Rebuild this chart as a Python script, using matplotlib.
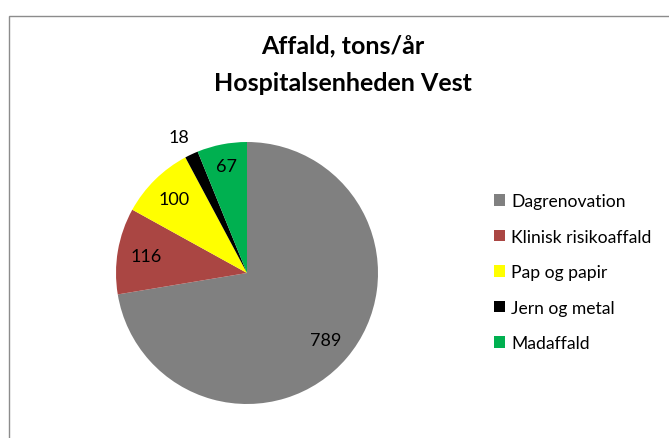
import numpy as np
import matplotlib
matplotlib.use("Agg")
import matplotlib.pyplot as plt
from matplotlib.patches import Rectangle

categories = ["Dagrenovation", "Klinisk risikoaffald", "Pap og papir", "Jern og metal", "Madaffald"]
values = [789, 116, 100, 18, 67]
colors = ["#808080", "#AA4643", "#FFFF00", "#000000", "#00B050"]
title = "Affald, tons/år\nHospitalsenheden Vest"

W, H = 669, 439
fig = plt.figure(figsize=(W / 100, H / 100), dpi=100)
fig.patch.set_facecolor("white")

# chart frame
fig.patches.append(Rectangle((8.5 / W, -0.2), 1.2, 1.2 - 16.5 / H, transform=fig.transFigure,
                             fill=False, edgecolor="#8c8c8c", lw=1.0))

cx, cy, r = 247, 274, 131
ax = fig.add_axes([(cx - r) / W, (H - cy - r) / H, 2 * r / W, 2 * r / H])
wedges, _ = ax.pie(values, colors=colors, startangle=90, counterclock=False, radius=1.0,
                   wedgeprops=dict(linewidth=0))
ax.set_xlim(-1, 1)
ax.set_ylim(-1, 1)
ax.axis("off")

dists = [0.79, 0.78, 0.79, 1.16, 0.83]
offs = [0, 0, 0, 1.5, 0]
for w, v, d, o in zip(wedges, values, dists, offs):
    ang = np.deg2rad((w.theta1 + w.theta2) / 2 + o)
    ax.text(d * np.cos(ang), d * np.sin(ang), str(v), ha="center", va="center",
            fontsize=13, family="Lato", color="black", clip_on=False)

fig.text(342.5 / W, 1 - 65 / H, title, ha="center", va="center", fontsize=18,
         family="Lato", fontweight="bold", linespacing=1.75)

leg = fig.legend(wedges, categories, loc="upper left", bbox_to_anchor=(494 / W, 1 - 194 / H),
                 frameon=False, prop=dict(family="Lato", size=12.6), handlelength=0.65,
                 handleheight=0.65, handletextpad=0.35, labelspacing=1.12, borderpad=0,
                 borderaxespad=0)

fig.savefig("out.png", dpi=100, facecolor="white")
